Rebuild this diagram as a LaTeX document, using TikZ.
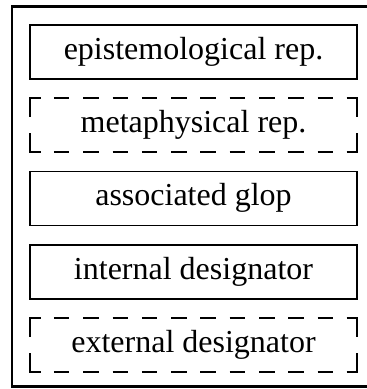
\documentclass[tikz,border=0pt]{standalone}
\usepackage{fontspec}
\setmainfont{Liberation Serif}
\begin{document}
\begin{tikzpicture}[x=1pt,y=1pt,
  frame/.style={draw, line width=2.2pt, inner sep=0pt, outer sep=0pt,
    minimum width=363pt, minimum height=380pt},
  entry/.style={inner sep=0pt, outer sep=0pt, line width=1.9pt,
    minimum width=327pt, minimum height=54pt,
    text height=22pt, text depth=7pt,
    font=\fontsize{32}{38}\selectfont},
  solidbox/.style={entry, draw},
  dashbox/.style={entry},
  edge/.style={line width=1.9pt}]
\useasboundingbox (0,0) rectangle (367,389);
\clip (0,0) rectangle (367,389);

% outer frame (its right side lies past the page edge)
\node[frame] (outer) at (193.5,192.5) {};

% the five entries, one above the other
\node[solidbox] (epi)  at (193.5,337)    {epistemological rep.};
\node[dashbox]  (meta) at (193.5,263.75) {metaphysical rep.};
\node[solidbox] (glop) at (193.5,190.5)  {associated glop};
\node[solidbox] (int)  at (193.5,117.25) {internal designator};
\node[dashbox]  (ext)  at (193.5,44)     {external designator};

% dashed outlines: corner brackets plus evenly spaced dashes
\foreach \n in {meta,ext}{
  \draw[edge] ([xshift=10.5]\n.north west) -- (\n.north west) -- ([yshift=-19]\n.north west);
  \draw[edge] ([xshift=-10.5]\n.north east) -- (\n.north east) -- ([yshift=-19]\n.north east);
  \draw[edge] ([xshift=10.5]\n.south west) -- (\n.south west) -- ([yshift=19]\n.south west);
  \draw[edge] ([xshift=-10.5]\n.south east) -- (\n.south east) -- ([yshift=19]\n.south east);
  \draw[edge, dash pattern=on 15.5pt off 13.8pt]
    ([xshift=23.9]\n.north west) -- ([xshift=-23.9]\n.north east);
  \draw[edge, dash pattern=on 15.5pt off 13.8pt]
    ([xshift=23.9]\n.south west) -- ([xshift=-23.9]\n.south east);
}
\end{tikzpicture}
\end{document}
